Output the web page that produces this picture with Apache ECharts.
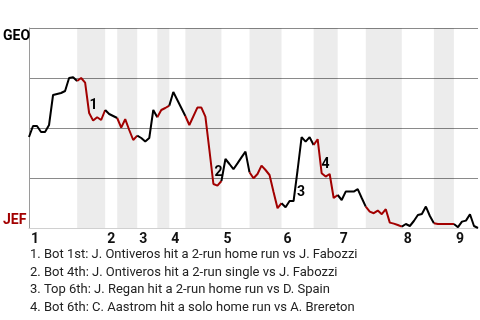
<!DOCTYPE html>
<html>
<head>
<meta charset="utf-8">
<script src="https://cdn.jsdelivr.net/npm/echarts@6/dist/echarts.min.js"></script>
<style>html,body{margin:0;padding:0;background:#fff}#c{width:480px;height:320px}</style>
</head>
<body>
<div id="c"></div>
<script>
// ---- data ----
const innings = ['1','2','3','4','5','6','7','8','9'];
const inningStart = [0, 19, 27, 35, 48, 63, 77, 93, 106];
const halfBounds = [0, 12, 19, 22, 27, 32, 35, 39, 48, 55, 63, 71, 77, 84, 93, 101, 106, 112];
const playIdx = [0,1,2,3,4,5,6,7,8,9,10,11,12,13,14,15,16,17,18,19,20,21,22,23,24,25,26,27,28,29,30,31,32,33,34,35,36,37,38,39,40,42,43,44,45,46,47,48,49,50,51,52,53,54,55,56,57,58,59,60,61,62,63,64,65,66,67,68,69,70,71,72,73,74,75,76,77,78,79,80,81,82,83,84,85,86,87,88,89,90,91,92,93,94,95,96,97,98,99,100,101,102,103,104,105,106,107,108,109,110,111,112];
const geoWinPct = [45.5,51,51,48,48,51.5,66.5,67,67.5,68.5,75,75.4,73.5,75,72.7,57.5,53.7,55.4,54,59,57,56,55,50.2,54.4,49,44,46.2,45,43.2,45,59,55.4,59,60,61.2,68,64,60,56,51.5,60.2,60.2,55.7,39,22,21.2,23.5,34.5,32,29.4,32.3,35.3,38.2,27.9,24.9,27,31.2,29,26.5,18,9.9,12.4,10.4,13.5,13.5,29,45.4,43.2,45.4,41.5,44.4,27.4,25.7,27,15,16.5,14,18.2,18.2,18.2,19.4,15,10.7,8.2,7.4,8.7,6.9,9.4,2.7,2.2,1.5,0.7,2,1,3.5,6.5,7,10.7,6,2.4,2,2,2,2,2,0.4,3.2,3.7,6.9,1,0];
const eventNums = ['1','2','3','4'];
const eventPlay = [15, 46, 66, 73];
const notes = [
  '1. Bot 1st: J. Ontiveros hit a 2-run home run vs J. Fabozzi',
  '2. Bot 4th: J. Ontiveros hit a 2-run single vs J. Fabozzi',
  '3. Top 6th: J. Regan hit a 2-run home run vs D. Spain',
  '4. Bot 6th: C. Aastrom hit a solo home run vs A. Brereton'
];

// ---- styles ----
const RED = '#a20000';
const FONT = 'Roboto';
const eventOffsets = [[4.5,-8],[5,-12],[7.5,-9],[3.8,-9]];

const points = playIdx.map((x, i) => [x, geoWinPct[i]]);
const series = [];
const bands = [];
for (let k = 1; k < halfBounds.length - 1; k += 2) {
  bands.push([{ xAxis: halfBounds[k] }, { xAxis: halfBounds[k + 1] }]);
}
series.push({
  type: 'line', data: [], z: 1, silent: true,
  markArea: { silent: true, itemStyle: { color: 'rgba(0,0,0,0.075)' }, data: bands }
});
for (let k = 0; k < halfBounds.length - 1; k++) {
  const a = halfBounds[k], b = halfBounds[k + 1];
  series.push({
    type: 'line', z: 3, silent: true, symbol: 'none', animation: false,
    lineStyle: { width: 2, color: k % 2 ? RED : '#000' },
    data: points.filter(p => p[0] >= a && p[0] <= b)
  });
}
series.push({
  type: 'scatter', z: 4, silent: true, symbolSize: 0, animation: false,
  itemStyle: { opacity: 0 },
  data: eventNums.map((n, i) => {
    const j = playIdx.indexOf(eventPlay[i]);
    return {
      value: [eventPlay[i], geoWinPct[j]], name: n,
      label: { show: true, position: 'inside', offset: eventOffsets[i], formatter: n,
               fontFamily: FONT, fontWeight: 'bold', fontSize: 14, color: '#000',
               textBorderWidth: 0, opacity: 1 }
    };
  })
});

const chart = echarts.init(document.getElementById('c'), null, { renderer: 'canvas' });
chart.setOption({
  animation: false,
  backgroundColor: '#fff',
  grid: { left: 29, right: 2, top: 28, height: 200, containLabel: false },
  xAxis: {
    type: 'value', min: 0, max: 112, offset: 1,
    splitLine: { show: false },
    axisTick: { show: false },
    axisLine: { show: true, lineStyle: { color: '#d0d0d0', width: 1 } },
    axisLabel: {
      customValues: inningStart,
      formatter: v => innings[inningStart.indexOf(v)] || '',
      align: 'left', margin: 3, padding: [0, 0, 0, 2],
      fontFamily: FONT, fontWeight: 'bold', fontSize: 14, color: '#111'
    }
  },
  yAxis: {
    type: 'value', min: 0, max: 100, interval: 25,
    splitLine: { show: true, showMinLine: false, lineStyle: { color: '#8a8a8a', width: 1 } },
    axisLine: { show: true, lineStyle: { color: '#9a9a9a' } },
    axisTick: { show: false },
    axisLabel: {
      align: 'left', margin: 26,
      formatter: v => v === 100 ? '{g|GEO}' : (v === 0 ? '{j|JEF}' : ''),
      rich: {
        g: { fontFamily: FONT, fontWeight: 'bold', fontSize: 14, color: '#000', padding: [17, 0, 0, 0] },
        j: { fontFamily: FONT, fontWeight: 'bold', fontSize: 14, color: RED, padding: [0, 0, 15, 0] }
      }
    }
  },
  graphic: [{
    type: 'text', left: 30, top: 246, silent: true,
    style: { text: notes.join('\n'), font: '13px Roboto', lineHeight: 17.5, fill: '#222' }
  }],
  series: series
});
</script>
</body>
</html>
